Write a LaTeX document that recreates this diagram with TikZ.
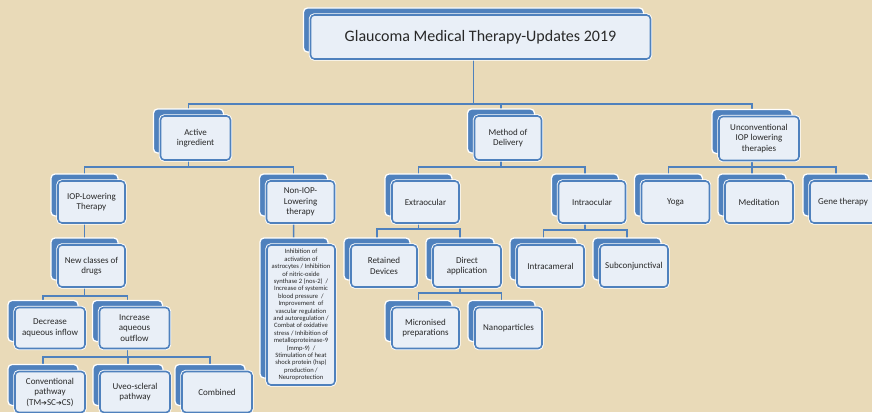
\documentclass[tikz,border=0pt]{standalone}
\usepackage{fontspec}
\setmainfont{Carlito}
\newfontfamily\dejavu{DejaVu Sans}
\definecolor{bgtan}{RGB}{233,218,184}
\definecolor{offblue}{RGB}{79,129,189}
\definecolor{paleblue}{RGB}{233,239,247}
\definecolor{txtgray}{RGB}{40,40,40}
\pgfdeclarelayer{back}
\pgfdeclarelayer{lines}
\pgfsetlayers{back,lines,main}
\tikzset{
  backbox/.style={draw=white, line width=1.3pt, fill=offblue, rounded corners=4pt, inner sep=0pt},
  frontbox/.style={fill=paleblue, draw=offblue, line width=1.6pt, rounded corners=4pt,
     preaction={draw=white, line width=3.4pt}, inner sep=1pt, align=center,
     text=txtgray, font=\fontsize{9}{10.5}\selectfont},
  conn/.style={draw=offblue, line width=1.6pt}
}
\newcommand\bx[7][]{%
  \node[backbox, minimum width=#5pt, minimum height=#6pt] (#2) at (#3,#4) {};
  \node[frontbox, minimum width=#5pt, minimum height=#6pt, #1] (#2-f) at (#3+7,#4+7) {#7};
}
\newcommand\tmarrow{{\dejavu\fontsize{7}{8}\selectfont ➔}}
\begin{document}
\begin{tikzpicture}[x=1pt,y=-1pt]
\useasboundingbox (0,0) rectangle (872,412);
\clip (0,0) rectangle (872,412);
\begin{pgfonlayer}{back}
\fill[bgtan] (0,0) rectangle (872,412);
\end{pgfonlayer}
% title
\bx[font=\fontsize{16}{18}\selectfont]{title}{473.5}{30}{340}{44}{Glaucoma Medical Therapy-Updates 2019}
% level 1
\bx{act}{188.5}{131}{70}{44}{Active\\ingredient}
\bx{meth}{501}{131}{67}{44}{Method of\\Delivery}
\bx{unc}{752}{131.5}{80}{44}{Unconventional\\IOP lowering\\therapies}
% level 2
\bx{iop}{84.5}{195}{67}{42}{IOP-Lowering\\Therapy}
\bx{niop}{293.5}{195}{68}{42}{Non-IOP-\\Lowering\\therapy}
\bx{extra}{418.5}{195}{67}{42}{Extraocular}
\bx{intra}{585}{195}{67}{42}{Intraocular}
\bx{yoga}{668.5}{195}{68}{42}{Yoga}
\bx{medi}{752}{195}{68}{42}{Meditation}
\bx{gene}{836}{195}{66}{42}{Gene therapy}
% level 3
\bx{newc}{84.5}{259}{67}{42}{New classes of\\drugs}
\bx[font=\fontsize{6.6}{7.4}\selectfont]{long}{294}{308}{68}{140}{Inhibition of\\activation of\\astrocytes / Inhibition\\of nitric-oxide\\synthase 2 (nos-2)~~/\\Increase of systemic\\blood pressure~~/\\Improvement~~of\\vascular regulation\\and autoregulation /\\Combat of oxidative\\stress / Inhibition of\\metalloproteinase-9\\(mmp-9)~~/\\Stimulation of heat\\shock protein (hsp)\\production /\\Neuroprotection}
\bx{ret}{377}{259}{66}{42}{Retained\\Devices}
\bx{dir}{460}{259}{68}{42}{Direct\\application}
\bx{icam}{543.5}{259}{67}{42}{Intracameral}
\bx{subc}{627}{259}{68}{42}{Subconjunctival}
% level 4
\bx{dec}{43}{321}{70}{41}{Decrease\\aqueous inflow}
\bx{inc}{127.5}{321}{70}{41}{Increase\\aqueous\\outflow}
\bx{micro}{418.5}{321}{67}{41}{Micronised\\preparations}
\bx{nano}{501.5}{321}{67}{41}{Nanoparticles}
% level 5
\bx{conv}{43}{385}{70}{41}{Conventional\\pathway\\(TM\tmarrow SC\tmarrow CS)}
\bx{uveo}{128}{385}{70}{41}{Uveo-scleral\\pathway}
\bx{comb}{210}{385}{70}{41}{Combined}
% connectors
\begin{pgfonlayer}{lines}
\coordinate (tbar) at (title.center |- 0,104);
\foreach \c in {act,meth,unc} \draw[conn] (title.center) -- (tbar) -| (\c.center);
\coordinate (abar) at (act.center |- 0,167);
\foreach \c in {iop,niop} \draw[conn] (act.center) -- (abar) -| (\c.center);
\coordinate (mbar) at (meth.center |- 0,167);
\foreach \c in {extra,intra} \draw[conn] (meth.center) -- (mbar) -| (\c.center);
\coordinate (ubar) at (unc.center |- 0,167);
\foreach \c in {yoga,medi,gene} \draw[conn] (unc.center) -- (ubar) -| (\c.center);
\draw[conn] (iop.center) -- (newc.center);
\draw[conn] (niop.center) -- (long.center);
\coordinate (ebar) at (extra.center |- 0,229);
\foreach \c in {ret,dir} \draw[conn] (extra.center) -- (ebar) -| (\c.center);
\coordinate (ibar) at (intra.center |- 0,230);
\foreach \c in {icam,subc} \draw[conn] (intra.center) -- (ibar) -| (\c.center);
\coordinate (nbar) at (newc.center |- 0,296);
\foreach \c in {dec,inc} \draw[conn] (newc.center) -- (nbar) -| (\c.center);
\coordinate (dbar) at (dir.center |- 0,293);
\foreach \c in {micro,nano} \draw[conn] (dir.center) -- (dbar) -| (\c.center);
\coordinate (incbar) at (inc.center |- 0,357);
\foreach \c in {conv,uveo,comb} \draw[conn] (inc.center) -- (incbar) -| (\c.center);
\end{pgfonlayer}
\end{tikzpicture}
\end{document}
